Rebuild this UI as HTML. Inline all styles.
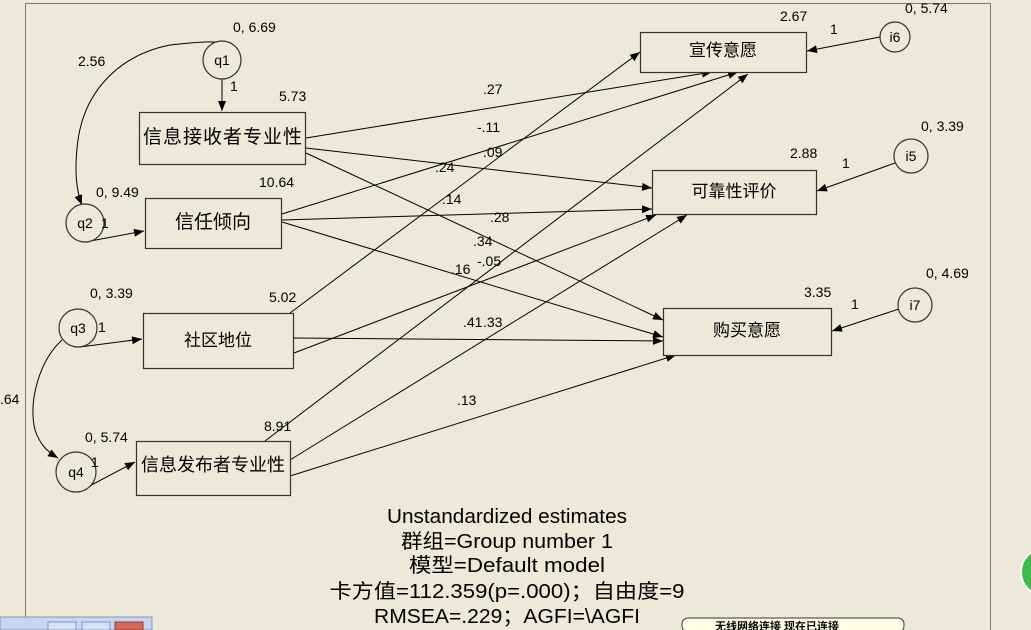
<!DOCTYPE html>
<html><head><meta charset="utf-8"><style>
html,body{margin:0;padding:0;width:1031px;height:630px;overflow:hidden;background:#ECE9D8;}
svg{display:block}
text{font-family:"Liberation Sans","Noto Sans CJK SC",sans-serif;fill:#000}
</style></head><body>
<svg width="1031" height="630" viewBox="0 0 1031 630">
<defs><marker id="a" markerWidth="10" markerHeight="8" refX="10" refY="4" orient="auto" markerUnits="userSpaceOnUse"><path d="M0,0 L10,4 L0,8z" fill="#000"/></marker></defs>
<rect width="1031" height="630" fill="#ECE9D8"/>
<path d="M25.5,630 V3.5 H990.5 V630" fill="none" stroke="#777"/>
<g stroke="#000" stroke-width="1" fill="none" marker-end="url(#a)">
<line x1="222" y1="79" x2="222" y2="111"/>
<line x1="85" y1="242" x2="144" y2="231"/>
<line x1="80" y1="347" x2="142" y2="339"/>
<line x1="80" y1="491" x2="135" y2="462"/>
<line x1="880" y1="37" x2="807" y2="51"/>
<line x1="895" y1="163" x2="817" y2="191"/>
<line x1="899" y1="309" x2="832" y2="331"/>
<path d="M238,50 C225,38 200,42 170,45 C120,55 85,90 78,140 C74,170 76,190 82,205"/>
<path d="M62,340 C40,360 28,400 35,430 C40,445 48,452 58,458"/>
<line x1="306" y1="138" x2="712" y2="72"/>
<line x1="306" y1="148" x2="652" y2="188"/>
<line x1="306" y1="153" x2="663" y2="320"/>
<line x1="282" y1="214" x2="738" y2="72"/>
<line x1="282" y1="220" x2="652" y2="209"/>
<line x1="282" y1="222" x2="663" y2="337"/>
<line x1="290" y1="313" x2="640" y2="52"/>
<line x1="294" y1="353" x2="656" y2="215"/>
<line x1="294" y1="338" x2="663" y2="341"/>
<line x1="265" y1="441" x2="748" y2="74"/>
<line x1="290" y1="460" x2="687" y2="215"/>
<line x1="290" y1="476" x2="676" y2="355"/>
</g>
<g stroke="#333" stroke-width="1.2" fill="#ECE9D8">
<rect x="139.5" y="112.5" width="166" height="52"/>
<rect x="145.5" y="198.5" width="136" height="50"/>
<rect x="143.5" y="313.5" width="150" height="55"/>
<rect x="136.5" y="441.5" width="154" height="54"/>
<rect x="640.5" y="32.5" width="166" height="40"/>
<rect x="652.5" y="170.5" width="164" height="44"/>
<rect x="663.5" y="308.5" width="168" height="47"/>
<circle cx="222" cy="60" r="19"/>
<circle cx="85" cy="223" r="19"/>
<circle cx="78" cy="328" r="19"/>
<circle cx="76" cy="472" r="20"/>
<circle cx="895" cy="37" r="15"/>
<circle cx="911" cy="156" r="17"/>
<circle cx="915" cy="305" r="17"/>
</g>
<g font-size="17" text-anchor="middle">
<text x="223" y="143" font-size="19" letter-spacing="1">信息接收者专业性</text>
<text x="213" y="228" font-size="19">信任倾向</text>
<text x="218" y="346">社区地位</text>
<text x="213" y="471" font-size="18">信息发布者专业性</text>
<text x="723" y="56">宣传意愿</text>
<text x="734" y="197">可靠性评价</text>
<text x="747" y="336">购买意愿</text>
</g>
<g font-size="14" text-anchor="middle">
<text x="222" y="65">q1</text><text x="85" y="228">q2</text><text x="78" y="333">q3</text><text x="76" y="477">q4</text>
<text x="895" y="42">i6</text><text x="911" y="161">i5</text><text x="915" y="310">i7</text>
</g>
<g font-size="14">
<text x="233" y="32">0, 6.69</text><text x="78" y="66">2.56</text><text x="230" y="91">1</text><text x="279" y="101">5.73</text>
<text x="96" y="197">0, 9.49</text><text x="101" y="228">1</text><text x="259" y="187">10.64</text>
<text x="90" y="298">0, 3.39</text><text x="98" y="332">1</text><text x="269" y="302">5.02</text>
<text x="0" y="404">.64</text><text x="85" y="442">0, 5.74</text><text x="91" y="467">1</text><text x="264" y="431">8.91</text>
<text x="780" y="21">2.67</text><text x="830" y="34">1</text><text x="905" y="13">0, 5.74</text>
<text x="790" y="158">2.88</text><text x="842" y="168">1</text><text x="921" y="131">0, 3.39</text>
<text x="804" y="297">3.35</text><text x="851" y="309">1</text><text x="926" y="278">0, 4.69</text>
<text x="483" y="94">.27</text><text x="477" y="132">-.11</text><text x="483" y="157">.09</text>
<text x="435" y="172">.24</text><text x="442" y="204">.14</text><text x="490" y="222">.28</text>
<text x="473" y="246">.34</text><text x="477" y="266">-.05</text><text x="451" y="274">.16</text>
<text x="463" y="327">.41</text><text x="483" y="327">.33</text><text x="457" y="405">.13</text>
</g>
<g font-size="20" text-anchor="middle">
<text x="507" y="523" textLength="240" lengthAdjust="spacingAndGlyphs">Unstandardized estimates</text>
<text x="507" y="548" textLength="212" lengthAdjust="spacingAndGlyphs">群组=Group number 1</text>
<text x="507" y="572" textLength="196" lengthAdjust="spacingAndGlyphs">模型=Default model</text>
<text x="507" y="598" textLength="355" lengthAdjust="spacingAndGlyphs">卡方值=112.359(p=.000)；自由度=9</text>
<text x="507" y="623" textLength="266" lengthAdjust="spacingAndGlyphs">RMSEA=.229；AGFI=\AGFI</text>
</g>
<rect x="0" y="617" width="152" height="13" fill="#C9D5EE" stroke="#7A96C8"/>
<rect x="48" y="622" width="28" height="8" fill="#D8E2F5" stroke="#7A96C8"/>
<rect x="82" y="622" width="28" height="8" fill="#D8E2F5" stroke="#7A96C8"/>
<rect x="115" y="622" width="28" height="8" fill="#D46A5A" stroke="#A33"/>
<rect x="682" y="618" width="222" height="14" rx="6" fill="#FFFFE6" stroke="#333"/>
<text x="715" y="630" font-size="11" font-weight="bold">无线网络连接 现在已连接</text>
<circle cx="1045" cy="572" r="24" fill="#3DBE4A" stroke="#fff" stroke-width="2"/>
</svg>
</body></html>
